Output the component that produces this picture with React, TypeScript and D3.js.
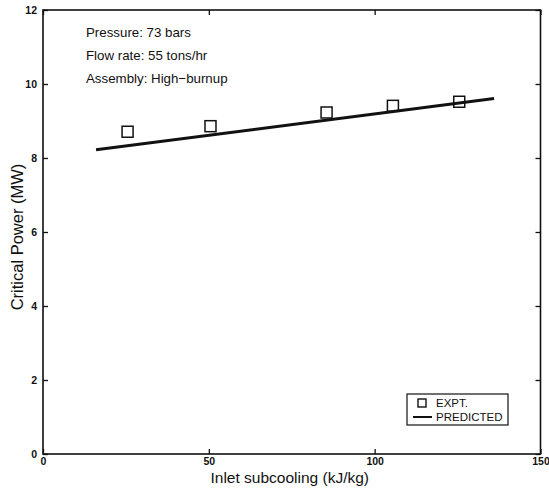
import React, { useEffect, useRef } from 'react';
import * as d3 from 'd3';

// experimental points
const exptX = [25.5, 50.5, 85.5, 105.5, 125.5];
const exptY = [8.71, 8.86, 9.23, 9.41, 9.52];
// predicted line endpoints
const predX = [16, 136];
const predY = [8.22, 9.61];

const xTicks = [0, 50, 100, 150];
const yTicks = [0, 2, 4, 6, 8, 10, 12];
const notes = ['Pressure: 73 bars', 'Flow rate: 55 tons/hr', 'Assembly: High\u2212burnup'];

const W = 549;
const H = 488;
const margin = { top: 10, right: 8.5, bottom: 34, left: 43 };
const font = 'Liberation Sans, Arial, Helvetica, sans-serif';

export default function App() {
  const ref = useRef<SVGSVGElement>(null);

  useEffect(() => {
    const svg = d3.select(ref.current);
    svg.selectAll('*').remove();

    const x = d3.scaleLinear().domain([0, 150]).range([margin.left, W - margin.right]);
    const y = d3.scaleLinear().domain([0, 12]).range([H - margin.bottom, margin.top]);

    svg.append('rect').attr('width', W).attr('height', H).attr('fill', '#fff');

    // frame
    svg.append('rect')
      .attr('x', x(0)).attr('y', y(12))
      .attr('width', x(150) - x(0)).attr('height', y(0) - y(12))
      .attr('fill', 'none').attr('stroke', '#111').attr('stroke-width', 1.6);

    const tl = 5;
    // axes with inward ticks, mirrored on top and right
    const bottom = svg.append('g').attr('transform', `translate(0,${y(0)})`)
      .call(d3.axisBottom(x).tickValues(xTicks).tickSize(-tl).tickPadding(3).tickFormat(d3.format('d')));
    const top = svg.append('g').attr('transform', `translate(0,${y(12)})`)
      .call(d3.axisTop(x).tickValues(xTicks).tickSize(-tl).tickFormat(() => ''));
    const left = svg.append('g').attr('transform', `translate(${x(0)},0)`)
      .call(d3.axisLeft(y).tickValues(yTicks).tickSize(-tl).tickPadding(6).tickFormat(d3.format('d')));
    const right = svg.append('g').attr('transform', `translate(${x(150)},0)`)
      .call(d3.axisRight(y).tickValues(yTicks).tickSize(-tl).tickFormat(() => ''));

    [bottom, top, left, right].forEach(g => {
      g.select('.domain').remove();
      g.selectAll('line').attr('stroke', '#111').attr('stroke-width', 1.3);
      g.selectAll('text')
        .attr('font-family', font).attr('font-size', 10.5).attr('font-weight', 'bold').attr('fill', '#111');
    });
    bottom.selectAll('text').attr('dy', '0.8em');

    // axis titles
    svg.append('text')
      .attr('x', x(75) - 2).attr('y', 483)
      .attr('text-anchor', 'middle')
      .attr('font-family', font).attr('font-size', 15.5).attr('fill', '#111')
      .text('Inlet subcooling (kJ/kg)');
    svg.append('text')
      .attr('transform', `translate(23,${y(6) + 5}) rotate(-90)`)
      .attr('text-anchor', 'middle')
      .attr('font-family', font).attr('font-size', 16.5).attr('fill', '#111')
      .text('Critical Power (MW)');

    // annotations
    svg.append('g').selectAll('text').data(notes).enter().append('text')
      .attr('x', 86).attr('y', (d, i) => 37 + i * 23)
      .attr('font-family', font).attr('font-size', 13.3).attr('fill', '#111')
      .text(d => d);

    // predicted line
    const line = d3.line<number>().x((d, i) => x(predX[i])).y(d => y(d));
    svg.append('path')
      .attr('d', line(predY))
      .attr('fill', 'none').attr('stroke', '#111').attr('stroke-width', 3);

    // experimental squares
    const s = 11;
    svg.append('g').selectAll('rect').data(exptX).enter().append('rect')
      .attr('x', d => x(d) - s / 2)
      .attr('y', (d, i) => y(exptY[i]) - s / 2)
      .attr('width', s).attr('height', s)
      .attr('fill', 'none').attr('stroke', '#111').attr('stroke-width', 1.5);

    // legend
    const lg = svg.append('g');
    lg.append('rect')
      .attr('x', 407).attr('y', 394).attr('width', 101).attr('height', 31)
      .attr('fill', '#fff').attr('stroke', '#111').attr('stroke-width', 1.2);
    lg.append('rect')
      .attr('x', 418).attr('y', 399).attr('width', 8).attr('height', 8)
      .attr('fill', 'none').attr('stroke', '#111').attr('stroke-width', 1.4);
    lg.append('line')
      .attr('x1', 413).attr('x2', 432).attr('y1', 417).attr('y2', 417)
      .attr('stroke', '#111').attr('stroke-width', 2);
    lg.append('text').attr('x', 436).attr('y', 407)
      .attr('font-family', font).attr('font-size', 11.5).attr('fill', '#111').text('EXPT.');
    lg.append('text').attr('x', 436).attr('y', 421)
      .attr('font-family', font).attr('font-size', 11.5).attr('fill', '#111').text('PREDICTED');
  }, []);

  return (
    <svg ref={ref} width={W} height={H} style={{ position: 'absolute', left: 0, top: 0 }} />
  );
}
